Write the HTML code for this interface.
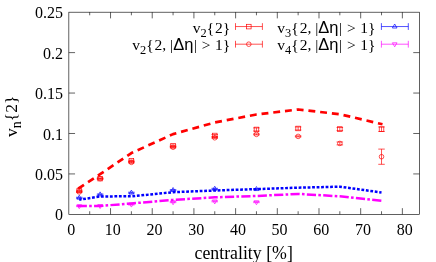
<!DOCTYPE html><html><head><meta charset="utf-8"><style>html,body{margin:0;padding:0;background:#fff}svg{display:block;will-change:transform}.t{font-family:"Liberation Serif",serif;font-size:16px}.s{font-family:"Liberation Sans",sans-serif}</style></head><body><svg width="436" height="262" viewBox="0 0 436 262">
<rect width="436" height="262" fill="#fff"/>
<rect x="68.85" y="12.19" width="350.60" height="202.17" fill="none" stroke="#000" stroke-width="0.62"/>
<path d="M110.54,214.36v-6.2 M110.54,12.19v6.2 M152.23,214.36v-6.2 M152.23,12.19v6.2 M193.92,214.36v-6.2 M193.92,12.19v6.2 M235.61,214.36v-6.2 M235.61,12.19v6.2 M277.30,214.36v-6.2 M277.30,12.19v6.2 M318.99,214.36v-6.2 M318.99,12.19v6.2 M360.68,214.36v-6.2 M360.68,12.19v6.2 M402.37,214.36v-6.2 M402.37,12.19v6.2 M89.69,214.36v-3.1 M89.69,12.19v3.1 M131.38,214.36v-3.1 M131.38,12.19v3.1 M173.07,214.36v-3.1 M173.07,12.19v3.1 M214.76,214.36v-3.1 M214.76,12.19v3.1 M256.45,214.36v-3.1 M256.45,12.19v3.1 M298.14,214.36v-3.1 M298.14,12.19v3.1 M339.83,214.36v-3.1 M339.83,12.19v3.1 M381.52,214.36v-3.1 M381.52,12.19v3.1 M68.85,173.93h6.2 M419.45,173.93h-6.2 M68.85,133.49h6.2 M419.45,133.49h-6.2 M68.85,93.05h6.2 M419.45,93.05h-6.2 M68.85,52.62h6.2 M419.45,52.62h-6.2" stroke="#000" stroke-width="0.62" fill="none"/>
<g class="t" fill="#000">
<text x="71.15" y="235.4" text-anchor="middle">0</text>
<text x="112.84" y="235.4" text-anchor="middle">10</text>
<text x="154.53" y="235.4" text-anchor="middle">20</text>
<text x="196.22" y="235.4" text-anchor="middle">30</text>
<text x="237.91" y="235.4" text-anchor="middle">40</text>
<text x="279.60" y="235.4" text-anchor="middle">50</text>
<text x="321.29" y="235.4" text-anchor="middle">60</text>
<text x="362.98" y="235.4" text-anchor="middle">70</text>
<text x="404.67" y="235.4" text-anchor="middle">80</text>
<text x="62.9" y="220.46" text-anchor="end">0</text>
<text x="62.9" y="180.03" text-anchor="end">0.05</text>
<text x="62.9" y="139.59" text-anchor="end">0.1</text>
<text x="62.9" y="99.15" text-anchor="end">0.15</text>
<text x="62.9" y="58.72" text-anchor="end">0.2</text>
<text x="62.9" y="18.29" text-anchor="end">0.25</text>
<text x="243.7" y="258.7" text-anchor="middle" font-size="17.8px">centrality [%]</text>
<text transform="translate(17,116.3) rotate(-90)" text-anchor="middle" font-size="17.5px">v<tspan font-size="14px" dy="3.6">n</tspan><tspan dy="-3.6">{2}</tspan></text>
<text x="230.3" y="32.7" text-anchor="end" font-size="15.5px">v<tspan font-size="12.4px" dy="3.8">2</tspan><tspan dy="-3.8">{<tspan dx=".9">2}</tspan></tspan></text>
<text x="230.3" y="50.2" text-anchor="end" font-size="15.5px">v<tspan font-size="12.4px" dy="3.8">2</tspan><tspan dy="-3.8">{<tspan dx=".9">2, |</tspan><tspan class="s" font-size="16.5px">Δη</tspan><tspan dx=".6">|</tspan><tspan dx=".9"> &gt; </tspan><tspan dx=".6">1}</tspan></tspan></text>
<text x="375.4" y="32.7" text-anchor="end" font-size="15.5px">v<tspan font-size="12.4px" dy="3.8">3</tspan><tspan dy="-3.8">{<tspan dx=".9">2, |</tspan><tspan class="s" font-size="16.5px">Δη</tspan><tspan dx=".6">|</tspan><tspan dx=".9"> &gt; </tspan><tspan dx=".6">1}</tspan></tspan></text>
<text x="375.4" y="50.2" text-anchor="end" font-size="15.5px">v<tspan font-size="12.4px" dy="3.8">4</tspan><tspan dy="-3.8">{<tspan dx=".9">2, |</tspan><tspan class="s" font-size="16.5px">Δη</tspan><tspan dx=".6">|</tspan><tspan dx=".9"> &gt; </tspan><tspan dx=".6">1}</tspan></tspan></text>
</g>
<path d="M235.5,26.55H262.4 M235.5,23.150000000000002v6.8 M262.4,23.150000000000002v6.8" stroke="#ff0000" stroke-width="0.68" fill="none"/>
<rect x="246.50" y="24.30" width="4.6" height="4.6" fill="none" stroke="#ff0000" stroke-width="0.68"/>
<path d="M235.5,44.2H262.4 M235.5,40.800000000000004v6.8 M262.4,40.800000000000004v6.8" stroke="#ff0000" stroke-width="0.68" fill="none"/>
<circle cx="248.80" cy="44.20" r="2.3" fill="none" stroke="#ff0000" stroke-width="0.68"/>
<path d="M381.4,26.55H408.3 M381.4,23.150000000000002v6.8 M408.3,23.150000000000002v6.8" stroke="#0000ff" stroke-width="0.68" fill="none"/>
<path d="M394.70,24.00L397.04,28.03H392.36Z" fill="none" stroke="#0000ff" stroke-width="0.68"/>
<path d="M381.4,44.2H408.3 M381.4,40.800000000000004v6.8 M408.3,40.800000000000004v6.8" stroke="#ff00ff" stroke-width="0.68" fill="none"/>
<path d="M394.70,46.80L397.04,42.77H392.36Z" fill="none" stroke="#ff00ff" stroke-width="0.68"/>
<path d="M79.27,190.10V191.07 M76.02,190.10h6.5 M76.02,191.07h6.5" stroke="#ff0000" stroke-width="0.68" fill="none"/>
<rect x="76.97" y="188.28" width="4.6" height="4.6" fill="none" stroke="#ff0000" stroke-width="0.68"/>
<path d="M100.12,178.13V179.10 M96.87,178.13h6.5 M96.87,179.10h6.5" stroke="#ff0000" stroke-width="0.68" fill="none"/>
<rect x="97.82" y="176.32" width="4.6" height="4.6" fill="none" stroke="#ff0000" stroke-width="0.68"/>
<path d="M131.38,160.18V161.47 M128.13,160.18h6.5 M128.13,161.47h6.5" stroke="#ff0000" stroke-width="0.68" fill="none"/>
<rect x="129.08" y="158.52" width="4.6" height="4.6" fill="none" stroke="#ff0000" stroke-width="0.68"/>
<path d="M173.07,145.14V146.43 M169.82,145.14h6.5 M169.82,146.43h6.5" stroke="#ff0000" stroke-width="0.68" fill="none"/>
<rect x="170.77" y="143.48" width="4.6" height="4.6" fill="none" stroke="#ff0000" stroke-width="0.68"/>
<path d="M214.76,134.54V136.48 M211.51,134.54h6.5 M211.51,136.48h6.5" stroke="#ff0000" stroke-width="0.68" fill="none"/>
<rect x="212.46" y="133.21" width="4.6" height="4.6" fill="none" stroke="#ff0000" stroke-width="0.68"/>
<path d="M256.45,127.91V130.98 M253.20,127.91h6.5 M253.20,130.98h6.5" stroke="#ff0000" stroke-width="0.68" fill="none"/>
<rect x="254.15" y="127.15" width="4.6" height="4.6" fill="none" stroke="#ff0000" stroke-width="0.68"/>
<path d="M298.14,126.94V130.01 M294.89,126.94h6.5 M294.89,130.01h6.5" stroke="#ff0000" stroke-width="0.68" fill="none"/>
<rect x="295.84" y="126.18" width="4.6" height="4.6" fill="none" stroke="#ff0000" stroke-width="0.68"/>
<path d="M339.83,127.51V130.58 M336.58,127.51h6.5 M336.58,130.58h6.5" stroke="#ff0000" stroke-width="0.68" fill="none"/>
<rect x="337.53" y="126.74" width="4.6" height="4.6" fill="none" stroke="#ff0000" stroke-width="0.68"/>
<path d="M381.52,126.94V131.47 M378.27,126.94h6.5 M378.27,131.47h6.5" stroke="#ff0000" stroke-width="0.68" fill="none"/>
<rect x="379.22" y="126.90" width="4.6" height="4.6" fill="none" stroke="#ff0000" stroke-width="0.68"/>
<path d="M79.27,191.47V192.44 M76.02,191.47h6.5 M76.02,192.44h6.5" stroke="#ff0000" stroke-width="0.68" fill="none"/>
<circle cx="79.27" cy="191.96" r="2.3" fill="none" stroke="#ff0000" stroke-width="0.68"/>
<path d="M100.12,178.13V179.10 M96.87,178.13h6.5 M96.87,179.10h6.5" stroke="#ff0000" stroke-width="0.68" fill="none"/>
<circle cx="100.12" cy="178.62" r="2.3" fill="none" stroke="#ff0000" stroke-width="0.68"/>
<path d="M131.38,161.88V162.85 M128.13,161.88h6.5 M128.13,162.85h6.5" stroke="#ff0000" stroke-width="0.68" fill="none"/>
<circle cx="131.38" cy="162.36" r="2.3" fill="none" stroke="#ff0000" stroke-width="0.68"/>
<path d="M173.07,146.75V147.72 M169.82,146.75h6.5 M169.82,147.72h6.5" stroke="#ff0000" stroke-width="0.68" fill="none"/>
<circle cx="173.07" cy="147.24" r="2.3" fill="none" stroke="#ff0000" stroke-width="0.68"/>
<path d="M214.76,137.29V138.26 M211.51,137.29h6.5 M211.51,138.26h6.5" stroke="#ff0000" stroke-width="0.68" fill="none"/>
<circle cx="214.76" cy="137.78" r="2.3" fill="none" stroke="#ff0000" stroke-width="0.68"/>
<path d="M256.45,133.89V134.86 M253.20,133.89h6.5 M253.20,134.86h6.5" stroke="#ff0000" stroke-width="0.68" fill="none"/>
<circle cx="256.45" cy="134.38" r="2.3" fill="none" stroke="#ff0000" stroke-width="0.68"/>
<path d="M298.14,135.92V136.89 M294.89,135.92h6.5 M294.89,136.89h6.5" stroke="#ff0000" stroke-width="0.68" fill="none"/>
<circle cx="298.14" cy="136.40" r="2.3" fill="none" stroke="#ff0000" stroke-width="0.68"/>
<path d="M339.83,141.98V144.89 M336.58,141.98h6.5 M336.58,144.89h6.5" stroke="#ff0000" stroke-width="0.68" fill="none"/>
<circle cx="339.83" cy="143.44" r="2.3" fill="none" stroke="#ff0000" stroke-width="0.68"/>
<path d="M381.52,149.10V164.30 M378.27,149.10h6.5 M378.27,164.30h6.5" stroke="#ff0000" stroke-width="0.68" fill="none"/>
<circle cx="381.52" cy="156.70" r="2.3" fill="none" stroke="#ff0000" stroke-width="0.68"/>
<path d="M79.27,197.28V198.28 M76.02,197.28h6.5 M76.02,198.28h6.5" stroke="#0000ff" stroke-width="0.68" fill="none"/>
<path d="M79.27,195.18L81.61,199.21H76.93Z" fill="none" stroke="#0000ff" stroke-width="0.68"/>
<path d="M100.12,193.97V194.97 M96.87,193.97h6.5 M96.87,194.97h6.5" stroke="#0000ff" stroke-width="0.68" fill="none"/>
<path d="M100.12,191.87L102.46,195.90H97.78Z" fill="none" stroke="#0000ff" stroke-width="0.68"/>
<path d="M131.38,192.19V193.19 M128.13,192.19h6.5 M128.13,193.19h6.5" stroke="#0000ff" stroke-width="0.68" fill="none"/>
<path d="M131.38,190.09L133.72,194.12H129.04Z" fill="none" stroke="#0000ff" stroke-width="0.68"/>
<path d="M173.07,189.60V190.60 M169.82,189.60h6.5 M169.82,190.60h6.5" stroke="#0000ff" stroke-width="0.68" fill="none"/>
<path d="M173.07,187.50L175.41,191.53H170.73Z" fill="none" stroke="#0000ff" stroke-width="0.68"/>
<path d="M214.76,188.31V189.31 M211.51,188.31h6.5 M211.51,189.31h6.5" stroke="#0000ff" stroke-width="0.68" fill="none"/>
<path d="M214.76,186.21L217.10,190.24H212.42Z" fill="none" stroke="#0000ff" stroke-width="0.68"/>
<path d="M256.45,188.63V189.63 M253.20,188.63h6.5 M253.20,189.63h6.5" stroke="#0000ff" stroke-width="0.68" fill="none"/>
<path d="M256.45,186.53L258.79,190.56H254.11Z" fill="none" stroke="#0000ff" stroke-width="0.68"/>
<path d="M79.27,205.61V206.61 M76.02,205.61h6.5 M76.02,206.61h6.5" stroke="#ff00ff" stroke-width="0.68" fill="none"/>
<path d="M79.27,208.71L81.61,204.68H76.93Z" fill="none" stroke="#ff00ff" stroke-width="0.68"/>
<path d="M100.12,205.45V206.45 M96.87,205.45h6.5 M96.87,206.45h6.5" stroke="#ff00ff" stroke-width="0.68" fill="none"/>
<path d="M100.12,208.55L102.46,204.52H97.78Z" fill="none" stroke="#ff00ff" stroke-width="0.68"/>
<path d="M131.38,203.99V204.99 M128.13,203.99h6.5 M128.13,204.99h6.5" stroke="#ff00ff" stroke-width="0.68" fill="none"/>
<path d="M131.38,207.09L133.72,203.06H129.04Z" fill="none" stroke="#ff00ff" stroke-width="0.68"/>
<path d="M173.07,201.65V202.65 M169.82,201.65h6.5 M169.82,202.65h6.5" stroke="#ff00ff" stroke-width="0.68" fill="none"/>
<path d="M173.07,204.75L175.41,200.72H170.73Z" fill="none" stroke="#ff00ff" stroke-width="0.68"/>
<path d="M214.76,200.84V201.84 M211.51,200.84h6.5 M211.51,201.84h6.5" stroke="#ff00ff" stroke-width="0.68" fill="none"/>
<path d="M214.76,203.94L217.10,199.91H212.42Z" fill="none" stroke="#ff00ff" stroke-width="0.68"/>
<path d="M256.45,201.65V202.65 M253.20,201.65h6.5 M253.20,202.65h6.5" stroke="#ff00ff" stroke-width="0.68" fill="none"/>
<path d="M256.45,204.75L258.79,200.72H254.11Z" fill="none" stroke="#ff00ff" stroke-width="0.68"/>
<polyline points="78.19,188.55 100.12,174.17 131.38,153.06 173.07,134.14 214.76,122.49 256.45,114.49 298.14,109.47 339.83,114.24 382.50,124.26" fill="none" stroke="#ff0000" stroke-width="2.7" stroke-dasharray="6.9,4.9" stroke-dashoffset="0" stroke-linejoin="round"/>
<polyline points="79.27,199.72 100.12,196.41 131.38,196.33 173.07,192.20 214.76,190.50 256.45,189.13 298.14,187.67 339.83,186.70 381.52,192.53" fill="none" stroke="#0000ff" stroke-width="2.5" stroke-dasharray="2.8,1.7" stroke-dashoffset="0.6" stroke-linejoin="round"/>
<polyline points="77.67,206.12 100.12,205.95 131.38,203.44 173.07,199.88 214.76,197.30 256.45,196.00 298.14,193.90 339.83,196.33 382.02,200.91" fill="none" stroke="#ff00ff" stroke-width="2.5" stroke-dasharray="9.2,2.3,2.6,2.3" stroke-dashoffset="0" stroke-linejoin="round"/>
</svg></body></html>
